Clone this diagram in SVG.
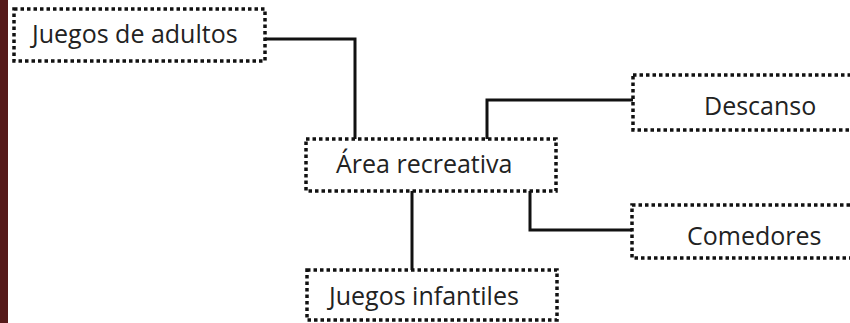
<svg xmlns="http://www.w3.org/2000/svg" width="850" height="323" viewBox="0 0 850 323">
<style>
.box{fill:#fff;stroke:#111;stroke-width:3.5;stroke-dasharray:3.5 3}
.lbl{font-family:"Open Sans","Liberation Sans",sans-serif;font-size:25px;fill:#222}
.con{fill:none;stroke:#111;stroke-width:3}
</style>
<rect x="0" y="0" width="850" height="323" fill="#fff"/>
<rect x="0" y="0" width="8" height="323" fill="#551a1a"/>
<g id="connectors">
<path class="con" d="M265 39 H355 V139"/>
<path class="con" d="M487 139 V100 H633"/>
<path class="con" d="M530 191 V230 H632"/>
<path class="con" d="M412 191 V270"/>
</g>
<g id="juegos-adultos">
<rect class="box" x="14" y="9" width="251" height="52"/>
<text class="lbl" x="32" y="43">Juegos de adultos</text>
</g>
<g id="area-recreativa">
<rect class="box" x="306" y="139" width="250" height="52"/>
<text class="lbl" x="336" y="173">Área recreativa</text>
</g>
<g id="juegos-infantiles">
<rect class="box" x="307" y="270" width="250" height="50"/>
<text class="lbl" x="329" y="305">Juegos infantiles</text>
</g>
<g id="descanso">
<rect class="box" x="633" y="75" width="230" height="55"/>
<text class="lbl" x="704" y="115">Descanso</text>
</g>
<g id="comedores">
<rect class="box" x="632" y="205" width="230" height="53"/>
<text class="lbl" x="687" y="245">Comedores</text>
</g>
</svg>
